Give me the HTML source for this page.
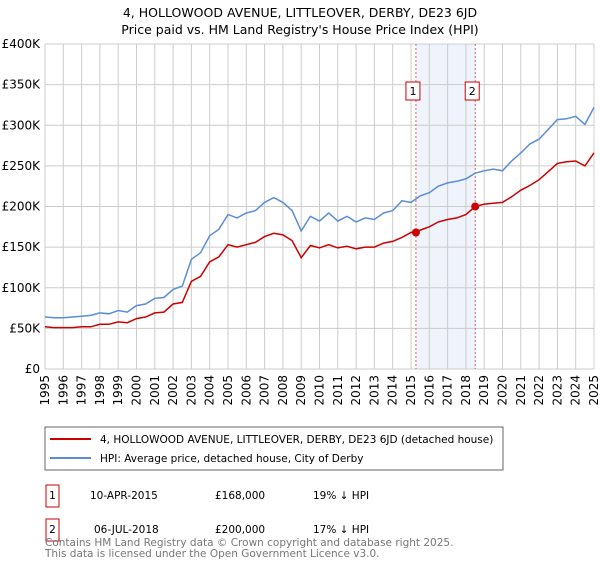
<!DOCTYPE html>
<html><head><meta charset="utf-8"><style>
body{margin:0;background:#fff;font-family:"Liberation Sans","DejaVu Sans",sans-serif;}
svg text{font-family:"DejaVu Sans","Liberation Sans",sans-serif;}
</style></head><body>
<svg id="c" width="600" height="560" xmlns="http://www.w3.org/2000/svg">
<text x="300" y="17" text-anchor="middle" font-size="12.5">4, HOLLOWOOD AVENUE, LITTLEOVER, DERBY, DE23 6JD</text>
<text x="300" y="34" text-anchor="middle" font-size="12.5">Price paid vs. HM Land Registry's House Price Index (HPI)</text>
<g id="grid"></g><g id="axes"></g><g id="series"></g>
<rect x="45" y="427" width="458" height="43" fill="#fff" stroke="#666"/>
<line x1="50" y1="439" x2="91" y2="439" stroke="#cc0000" stroke-width="2"/>
<text x="100" y="443" font-size="10.5">4, HOLLOWOOD AVENUE, LITTLEOVER, DERBY, DE23 6JD (detached house)</text>
<line x1="50" y1="458" x2="91" y2="458" stroke="#5b8dd6" stroke-width="2"/>
<text x="100" y="462" font-size="10.5">HPI: Average price, detached house, City of Derby</text>
<rect x="46" y="485" width="13" height="22" fill="#fff" stroke="#cc0000"/>
<text x="52.5" y="499" font-size="10.5" text-anchor="middle">1</text>
<text x="90" y="499" font-size="10.5">10-APR-2015</text>
<text x="215" y="499" font-size="10.5">£168,000</text>
<text x="313" y="499" font-size="10.5">19% ↓ HPI</text>
<rect x="46" y="519" width="13" height="22" fill="#fff" stroke="#cc0000"/>
<text x="52.5" y="533" font-size="10.5" text-anchor="middle">2</text>
<text x="94" y="533" font-size="10.5">06-JUL-2018</text>
<text x="215" y="533" font-size="10.5">£200,000</text>
<text x="313" y="533" font-size="10.5">17% ↓ HPI</text>
<text x="45" y="546" font-size="10.5" fill="#777">Contains HM Land Registry data © Crown copyright and database right 2025.</text>
<text x="45" y="557" font-size="10.5" fill="#777">This data is licensed under the Open Government Licence v3.0.</text>
</svg>
<script>
const years=[1995,1995.5,1996,1996.5,1997,1997.5,1998,1998.5,1999,1999.5,2000,2000.5,2001,2001.5,2002,2002.5,2003,2003.5,2004,2004.5,2005,2005.5,2006,2006.5,2007,2007.5,2008,2008.5,2009,2009.5,2010,2010.5,2011,2011.5,2012,2012.5,2013,2013.5,2014,2014.5,2015,2015.5,2016,2016.5,2017,2017.5,2018,2018.5,2019,2019.5,2020,2020.5,2021,2021.5,2022,2022.5,2023,2023.5,2024,2024.5,2025];
const hpi=[64,63,63,64,65,66,69,68,72,70,78,80,87,88,98,102,135,143,164,172,190,186,192,195,205,211,205,195,170,188,182,192,182,188,181,186,184,192,195,207,205,213,217,225,229,231,234,241,244,246,244,256,266,277,283,295,307,308,311,301,322];
const price=[52,51,51,51,52,52,55,55,58,57,62,64,69,70,80,82,108,114,132,138,153,150,153,156,163,167,165,158,137,152,149,153,149,151,148,150,150,155,157,162,168,171,175,181,184,186,190,200,203,204,205,212,220,226,233,243,253,255,256,250,266];
const sales=[2015.27,2018.51];
const salePrices=[168,200];
const yTicks=[0,50,100,150,200,250,300,350,400];
const xTicks=[1995,1996,1997,1998,1999,2000,2001,2002,2003,2004,2005,2006,2007,2008,2009,2010,2011,2012,2013,2014,2015,2016,2017,2018,2019,2020,2021,2022,2023,2024,2025];
const NS='http://www.w3.org/2000/svg';
const X=v=>45+(v-1995)/30*549, Y=v=>369-v/400*325;
function mk(p,t,a){const e=document.createElementNS(NS,t);for(const k in a)e.setAttribute(k,a[k]);document.getElementById(p).appendChild(e);return e;}
const band=mk('grid','rect',{x:X(sales[0]),y:Y(400),width:X(sales[1])-X(sales[0]),height:Y(0)-Y(400),fill:'#eef3fc'});


yTicks.forEach(v=>{const l=mk('grid','line',{x1:45,x2:594,y1:Y(v),y2:Y(v),stroke:'#ccc'});


const t=mk('axes','text',{x:40,y:Y(v)+4,'text-anchor':'end','font-size':12});t.textContent=v===0?'£0':'£'+v+'K';

});
xTicks.forEach(v=>{const l=mk('grid','line',{x1:X(v),x2:X(v),y1:Y(400),y2:Y(0),stroke:'#ccc'});


const t=mk('axes','text',{x:0,y:0,'text-anchor':'end','font-size':12,transform:`translate(${X(v)+4},375) rotate(-90)`});t.textContent=v;

});
sales.forEach((s,i)=>{const l=mk('grid','line',{x1:X(s),x2:X(s),y1:Y(400),y2:Y(0),stroke:'#e06060','stroke-dasharray':'2,2'});


const r=mk('series','rect',{x:X(s)-10,y:82,width:14,height:18,fill:'#fff',stroke:'#cc0000'});


const t=mk('series','text',{x:X(s)-3,y:95,'text-anchor':'middle','font-size':11});t.textContent=i+1;

});
const pts=a=>a.map((v,i)=>X(years[i]).toFixed(1)+','+Y(v).toFixed(1)).join(' ');
const h=mk('series','polyline',{points:pts(hpi),fill:'none',stroke:'#5b8dd6','stroke-width':1.5});


const p=mk('series','polyline',{points:pts(price),fill:'none',stroke:'#cc0000','stroke-width':1.5});


sales.forEach((s,i)=>{const c=mk('series','circle',{cx:X(s),cy:Y(salePrices[i]),r:4,fill:'#cc0000'});

});
</script>
</body></html>
